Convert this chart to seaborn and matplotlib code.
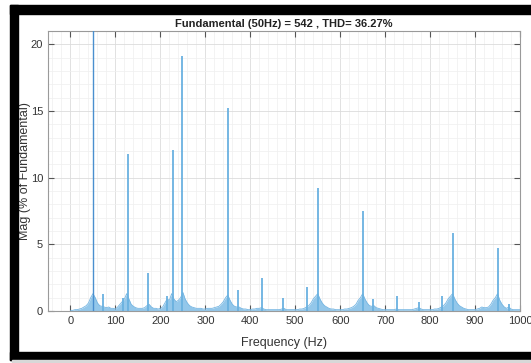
import numpy as np
import pandas as pd
import matplotlib
matplotlib.use("Agg")
import matplotlib.pyplot as plt
from matplotlib.patches import Rectangle
from matplotlib.ticker import MultipleLocator
from matplotlib import font_manager
import seaborn as sns

# ---------------- data ----------------
title_text = "Fundamental (50Hz) = 542 , THD= 36.27%"
x_label = "Frequency (Hz)"
y_label = "Mag (% of Fundamental)"

fund_freq = [50]
fund_mag = [100.0]

spike_freq = [72, 117, 127, 173, 215, 228, 249, 350, 373, 427, 472, 527,
              551, 651, 674, 727, 775, 827, 851, 951, 975]
spike_mag = [1.3, 1.0, 11.8, 2.85, 1.1, 12.1, 19.1, 15.2, 1.6, 2.5, 1.0, 1.8,
             9.2, 7.5, 0.9, 1.1, 0.65, 1.1, 5.85, 4.7, 0.5]

# noise floor, every 5 Hz from 0 to 1000
noise_freq = list(range(0, 1001, 5))
noise_mag = [
    0.05, 0.05, 0.1, 0.1, 0.15, 0.2, 0.3, 0.4, 0.6, 1.0, 1.3, 1.0, 0.6, 0.4, 0.35, 0.3, 0.25, 0.3, 0.2, 0.2,
    0.15, 0.3, 0.5, 0.7, 0.9, 1.3, 0.9, 0.5, 0.35, 0.25, 0.2, 0.2, 0.2, 0.25, 0.4, 0.5, 0.3, 0.2, 0.2, 0.15,
    0.2, 0.3, 0.6, 0.9, 0.8, 1.3, 0.9, 0.7, 0.8, 1.0, 1.4, 0.9, 0.6, 0.4, 0.3, 0.25, 0.2, 0.2, 0.2, 0.15,
    0.15, 0.2, 0.2, 0.2, 0.25, 0.3, 0.35, 0.5, 0.7, 1.0, 1.2, 0.8, 0.5, 0.35, 0.3, 0.3, 0.2, 0.15, 0.15, 0.1,
    0.1, 0.15, 0.15, 0.2, 0.2, 0.25, 0.15, 0.1, 0.1, 0.1, 0.1, 0.1, 0.1, 0.1, 0.15, 0.2, 0.1, 0.1, 0.1, 0.1,
    0.1, 0.1, 0.15, 0.15, 0.2, 0.3, 0.4, 0.6, 0.9, 1.1, 1.3, 0.9, 0.6, 0.4, 0.3, 0.2, 0.15, 0.15, 0.1, 0.1,
    0.1, 0.1, 0.15, 0.15, 0.2, 0.25, 0.35, 0.5, 0.8, 1.0, 1.3, 0.9, 0.6, 0.4, 0.35, 0.4, 0.25, 0.2, 0.15, 0.1,
    0.1, 0.1, 0.1, 0.1, 0.1, 0.15, 0.1, 0.1, 0.1, 0.1, 0.1, 0.1, 0.1, 0.15, 0.2, 0.25, 0.15, 0.1, 0.1, 0.1,
    0.1, 0.1, 0.15, 0.15, 0.2, 0.3, 0.4, 0.6, 0.9, 1.1, 1.3, 0.9, 0.6, 0.4, 0.3, 0.2, 0.15, 0.1, 0.1, 0.1,
    0.1, 0.15, 0.2, 0.3, 0.25, 0.25, 0.3, 0.5, 0.8, 1.0, 1.3, 0.8, 0.5, 0.3, 0.2, 0.3, 0.15, 0.1, 0.1, 0.1,
    0.1,
]

x_ticks = [0, 100, 200, 300, 400, 500, 600, 700, 800, 900, 1000]
y_ticks = [0, 5, 10, 15, 20]

# ---------------- plot ----------------
sns.set_theme(style="white")
plt.rcParams["font.family"] = ["Liberation Sans", "DejaVu Sans"]

installed = {f.name for f in font_manager.fontManager.ttflist}
narrow = "Liberation Sans Narrow" in installed

fig = plt.figure(figsize=(5.31, 3.63), dpi=100)
fig.patch.set_facecolor("white")

# screenshot frame
fig.patches.append(Rectangle((10 / 531, 1 - 14 / 363), 1 - 10 / 531, 9 / 363,
                             transform=fig.transFigure, color="black", zorder=0))
fig.patches.append(Rectangle((10 / 531, 1 - 360 / 363), 8 / 531, 355 / 363,
                             transform=fig.transFigure, color="black", zorder=0))
fig.patches.append(Rectangle((10 / 531, 1 - 360 / 363), 1 - 10 / 531, 8 / 363,
                             transform=fig.transFigure, color="black", zorder=0))
fig.patches.append(Rectangle((12 / 531, 0), 1 - 12 / 531, 3 / 363,
                             transform=fig.transFigure, color="#d8d8d8", zorder=0))

ax = fig.add_axes([48 / 531, 1 - 311 / 363, 472 / 531, 280 / 363])

noise_df = pd.DataFrame({"f": noise_freq, "m": noise_mag})
ax.fill_between(noise_df["f"], 0, noise_df["m"], color="#93c7ea", lw=0, zorder=2)
sns.lineplot(data=noise_df, x="f", y="m", ax=ax, color="#74b5e2", lw=0.6, zorder=3)

spike_df = pd.DataFrame({"f": spike_freq, "m": spike_mag})
ax.vlines(spike_df["f"], 0, spike_df["m"], color="#6ab1e0", lw=1.3, zorder=4)
ax.vlines(fund_freq, 0, fund_mag, color="#4a8fcf", lw=1.0, zorder=4)

ax.set_xlim(-50, 1000)
ax.set_ylim(0, 21)
ax.set_xticks(x_ticks)
ax.set_yticks(y_ticks)
ax.xaxis.set_minor_locator(MultipleLocator(20))
ax.yaxis.set_minor_locator(MultipleLocator(1))
ax.grid(True, which="major", color="#dcdcdc", lw=0.6)
ax.grid(True, which="minor", color="#efefef", lw=0.5)
ax.set_axisbelow(True)

ax.tick_params(axis="both", which="major", direction="in", length=4, width=0.8,
               color="#555555", labelsize=8, labelcolor="#333333",
               top=True, right=True, bottom=True, left=True)
ax.tick_params(axis="both", which="minor", length=0)
for s in ax.spines.values():
    s.set_color("#9a9a9a")
    s.set_linewidth(0.8)

ax.set_xlabel(x_label, fontsize=9, color="#333333")
ax.set_ylabel(y_label, fontsize=9, color="#333333")
ax.xaxis.set_label_coords(0.5, -0.092)
ax.yaxis.set_label_coords(-0.036, 0.5)

if narrow:
    ax.set_title(title_text, fontsize=9.5, fontweight="bold", color="#222222", pad=3,
                 family=["Liberation Sans Narrow", "DejaVu Sans"])
else:
    ax.set_title(title_text, fontsize=8, fontweight="bold", color="#222222", pad=3)

fig.savefig("out.png", dpi=100)
